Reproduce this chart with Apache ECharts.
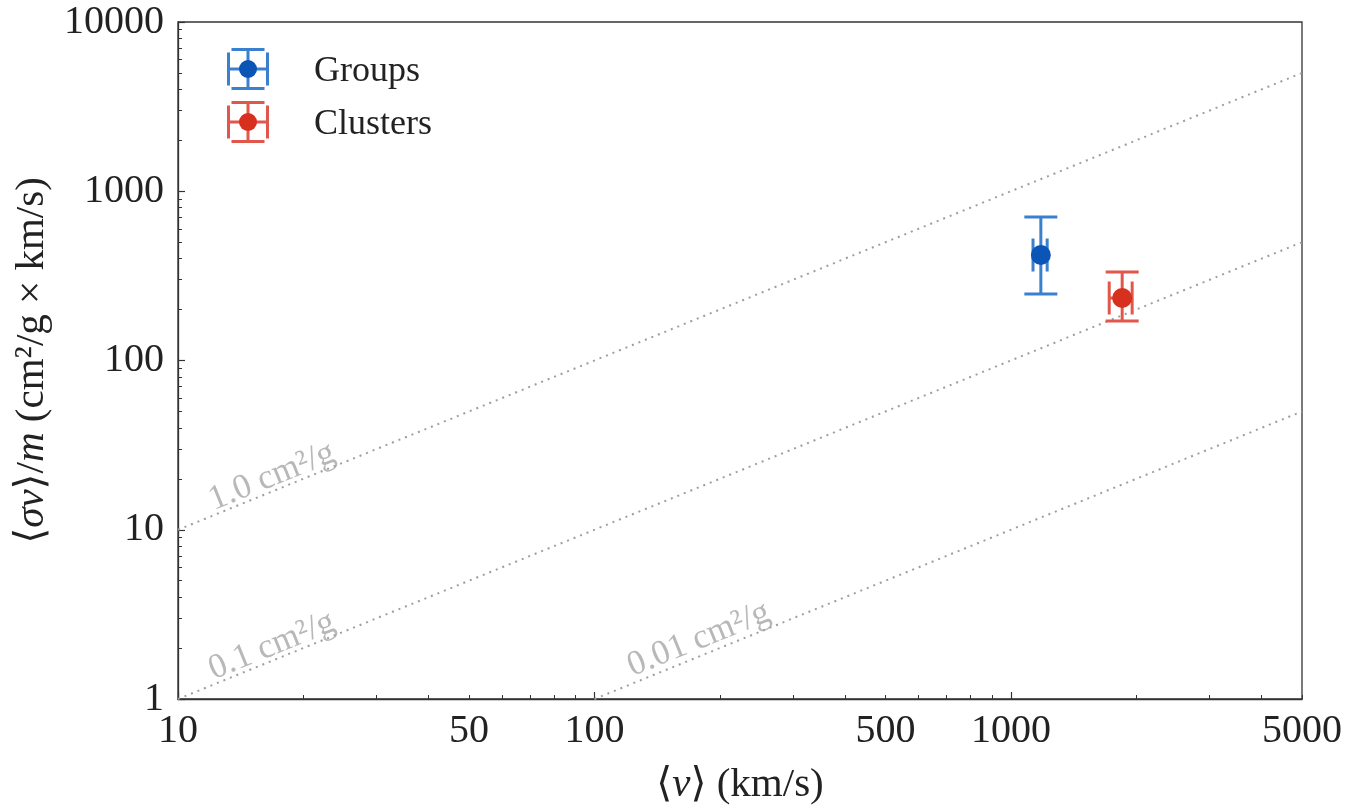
<!DOCTYPE html>
<html>
<head>
<meta charset="utf-8">
<script src="https://cdn.jsdelivr.net/npm/echarts@6/dist/echarts.min.js"></script>
<style>
  html, body { margin: 0; padding: 0; background: #fff; }
  #chart { width: 1347px; height: 808px; }
</style>
</head>
<body>
<div id="chart"></div>
<script>
// Velocity-weighted cross section of dark matter in groups and clusters

const SERIF = '"Liberation Serif", "DejaVu Serif", serif';

// Measurements: [<v>, <v> low, <v> high, <σv>/m, low, high]
const groupNames = ['Groups', 'Clusters'];
const groupsPoint = [1180, 1130, 1222, 420, 247, 705];
const clustersPoint = [1850, 1722, 1955, 234, 171, 333];

// Constant cross-section reference lines: <σv>/m = (σ/m) * <v>
const crossSections = [1.0, 0.1, 0.01];
const crossLabels = ['1.0 cm²/g', '0.1 cm²/g', '0.01 cm²/g'];
const line10 = [[10, 10], [5000, 5000]];
const line01 = [[10, 1], [5000, 500]];
const line001 = [[100, 1], [5000, 50]];
// Where each line's label sits (data coordinates, just above its line)
const labelAnchors = [[16.8, 20.6], [16.8, 2.06], [178, 2.25]];

// Tick labels and tick positions
const xLabelValues = [10, 50, 100, 500, 1000, 5000];
const xMajorTicks = [10, 100, 1000];
const xMinorTicks = [20, 30, 40, 50, 60, 70, 80, 90, 200, 300, 400, 500, 600, 700, 800, 900, 2000, 3000, 4000, 5000];
const yLabelValues = [1, 10, 100, 1000, 10000];
const yMinorTicks = [2, 3, 4, 5, 6, 7, 8, 9, 20, 30, 40, 50, 60, 70, 80, 90, 200, 300, 400, 500, 600, 700, 800, 900, 2000, 3000, 4000, 5000, 6000, 7000, 8000, 9000];

const colors = {
  groupsBar: '#3b7fcf', groupsDot: '#0b55b6',
  clustersBar: '#e2574b', clustersDot: '#d8301e',
  refLine: '#9e9e9e', axis: '#333333'
};

const chart = echarts.init(document.getElementById('chart'), null, { renderer: 'canvas' });

function errorBarItem(barColor) {
  return function (params, api) {
    const v = api.value(0), vLo = api.value(1), vHi = api.value(2);
    const s = api.value(3), sLo = api.value(4), sHi = api.value(5);
    const c = api.coord([v, s]);
    const top = api.coord([v, sHi]);
    const bot = api.coord([v, sLo]);
    const left = api.coord([vLo, s]);
    const right = api.coord([vHi, s]);
    const cap = 16.5;
    const style = { stroke: barColor, lineWidth: 3 };
    const seg = (x1, y1, x2, y2) => ({ type: 'line', shape: { x1, y1, x2, y2 }, style });
    return {
      type: 'group',
      children: [
        seg(c[0], top[1], c[0], bot[1]),
        seg(c[0] - cap, top[1], c[0] + cap, top[1]),
        seg(c[0] - cap, bot[1], c[0] + cap, bot[1]),
        seg(left[0], c[1], right[0], c[1]),
        seg(left[0], c[1] - cap, left[0], c[1] + cap),
        seg(right[0], c[1] - cap, right[0], c[1] + cap)
      ]
    };
  };
}

function refLine(data) {
  return {
    type: 'line', data, symbol: 'none', silent: true, z: 1,
    lineStyle: { color: colors.refLine, width: 2, type: [2, 5] }
  };
}

// Legend glyph: error-bar cross inside cap box, with a dot in the middle
function legendGlyph(cx, cy, barColor, dotColor) {
  const h = 19.5;
  const style = { stroke: barColor, lineWidth: 3 };
  const seg = (x1, y1, x2, y2) => ({ type: 'line', shape: { x1, y1, x2, y2 }, style });
  return [
    seg(cx, cy - h, cx, cy + h),
    seg(cx - h, cy, cx + h, cy),
    seg(cx - h + 3, cy - h, cx + h - 3, cy - h),
    seg(cx - h + 3, cy + h, cx + h - 3, cy + h),
    seg(cx - h, cy - h + 3, cx - h, cy + h - 3),
    seg(cx + h, cy - h + 3, cx + h, cy + h - 3),
    { type: 'circle', shape: { cx, cy, r: 9 }, style: { fill: dotColor } }
  ];
}

const plainNumber = (v) => String(Math.round(v));
const tickLabelStyle = { fontFamily: SERIF, fontSize: 40, color: '#222', formatter: plainNumber };
const titleRich = {
  p: { fontFamily: SERIF, fontSize: 41, color: '#222' },
  i: { fontFamily: SERIF, fontSize: 41, fontStyle: 'italic', color: '#222' }
};

const option = {
  animation: false,
  backgroundColor: '#fff',
  grid: {
    left: 178, top: 22, right: 45, bottom: 109,
    outerBoundsMode: 'none', containLabel: false,
    show: true, borderColor: colors.axis, borderWidth: 1.3, backgroundColor: 'transparent'
  },
  xAxis: [
    {
      type: 'log', logBase: 10, min: 10, max: 5000, position: 'bottom',
      name: '{p|⟨}{i|v}{p|⟩ (km/s)}', nameLocation: 'middle', nameGap: 66,
      nameTextStyle: { rich: titleRich },
      axisLine: { show: true, lineStyle: { color: colors.axis, width: 1.3 } },
      axisTick: { show: true, inside: true, length: 7, customValues: xMajorTicks, lineStyle: { color: colors.axis, width: 1.2 } },
      axisLabel: { ...tickLabelStyle, margin: 12, customValues: xLabelValues },
      splitLine: { show: false }, minorTick: { show: false }
    },
    {
      type: 'log', logBase: 10, min: 10, max: 5000, position: 'bottom',
      axisLine: { show: false },
      axisTick: { show: true, inside: true, length: 4, customValues: xMinorTicks, lineStyle: { color: colors.axis, width: 1 } },
      axisLabel: { show: false }, splitLine: { show: false }
    }
  ],
  yAxis: [
    {
      type: 'log', logBase: 10, min: 1, max: 10000, position: 'left',
      name: '{p|⟨}{i|σv}{p|⟩/}{i|m}{p| (cm²/g × km/s)}', nameLocation: 'middle', nameGap: 123,
      nameTextStyle: { rich: titleRich },
      axisLine: { show: true, lineStyle: { color: colors.axis, width: 1.3 } },
      axisTick: { show: true, inside: true, length: 7, customValues: yLabelValues, lineStyle: { color: colors.axis, width: 1.2 } },
      axisLabel: { ...tickLabelStyle, margin: 14, customValues: yLabelValues },
      splitLine: { show: false }, minorTick: { show: false }
    },
    {
      type: 'log', logBase: 10, min: 1, max: 10000, position: 'left',
      axisLine: { show: false },
      axisTick: { show: true, inside: true, length: 4, customValues: yMinorTicks, lineStyle: { color: colors.axis, width: 1 } },
      axisLabel: { show: false }, splitLine: { show: false }
    }
  ],
  series: [
    refLine(line10),
    refLine(line01),
    refLine(line001),
    {
      type: 'scatter', silent: true, symbolSize: 0, z: 2,
      data: labelAnchors.map((p, i) => ({ value: p, name: crossLabels[i] })),
      label: {
        show: true, position: 'inside', rotate: 22.1, formatter: '{b}',
        fontFamily: SERIF, fontSize: 35, color: '#a6a6a6'
      }
    },
    {
      name: groupNames[0], type: 'custom', z: 3,
      renderItem: errorBarItem(colors.groupsBar), data: [groupsPoint]
    },
    {
      name: groupNames[1], type: 'custom', z: 3,
      renderItem: errorBarItem(colors.clustersBar), data: [clustersPoint]
    },
    {
      type: 'scatter', z: 4, symbolSize: 20,
      data: [[groupsPoint[0], groupsPoint[3]]],
      itemStyle: { color: colors.groupsDot, opacity: 1 }
    },
    {
      type: 'scatter', z: 4, symbolSize: 20,
      data: [[clustersPoint[0], clustersPoint[3]]],
      itemStyle: { color: colors.clustersDot, opacity: 1 }
    }
  ],
  graphic: [
    ...legendGlyph(248, 69, colors.groupsBar, colors.groupsDot),
    ...legendGlyph(248, 122, colors.clustersBar, colors.clustersDot),
    { type: 'text', left: 314, top: 54, style: { text: groupNames[0], font: '36px ' + SERIF, fill: '#222' } },
    { type: 'text', left: 314, top: 107, style: { text: groupNames[1], font: '36px ' + SERIF, fill: '#222' } }
  ]
};

chart.setOption(option);
</script>
</body>
</html>
